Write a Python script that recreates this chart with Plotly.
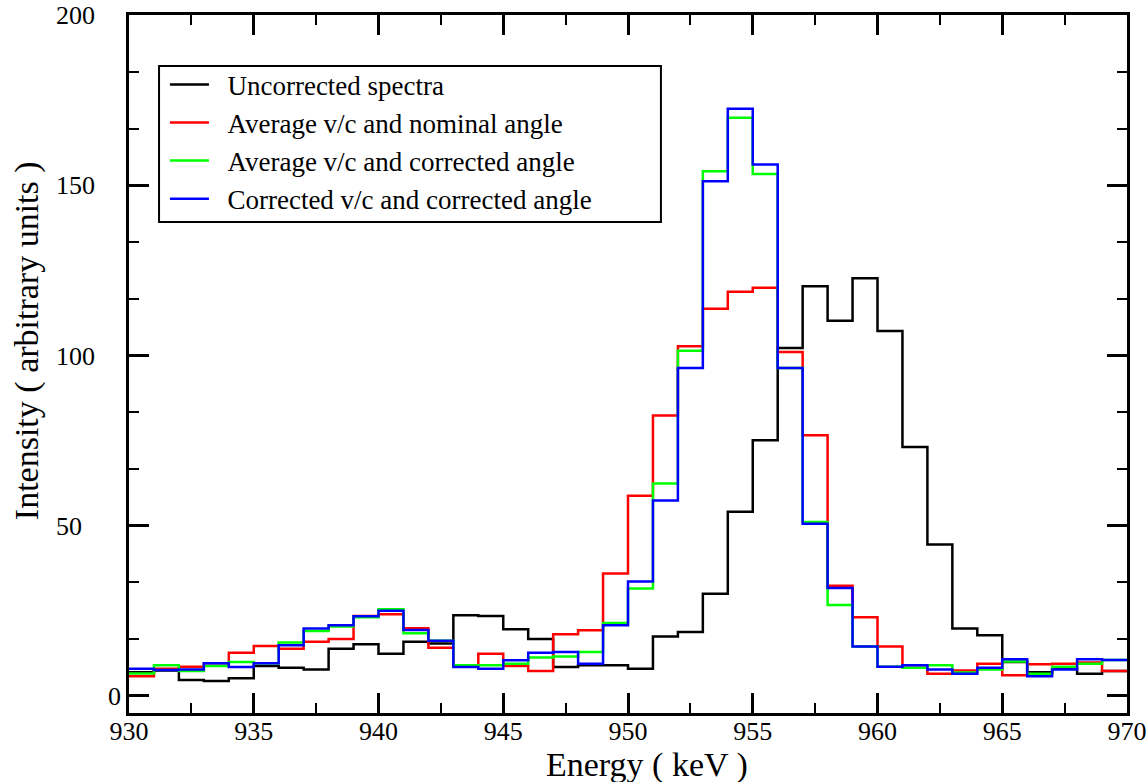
import plotly.graph_objects as go

# Bin lower edges (keV), 1 keV wide bins from 930 to 970
bin_edges = list(range(930, 971))

uncorrected = [7.0, 7.5, 4.7, 4.4, 5.2, 8.8, 8.3, 7.8, 13.9, 15.2,
               12.4, 15.9, 15.4, 23.7, 23.5, 19.6, 16.7, 8.5, 9.0, 9.0,
               8.0, 17.5, 18.8, 30.0, 54.1, 75.1, 102.2, 120.3, 110.2, 122.7,
               107.2, 73.1, 44.5, 19.8, 17.8, 10.0, 7.0, 8.0, 6.5, 7.3]

avg_nominal = [5.8, 8.0, 8.6, 9.6, 12.7, 14.7, 13.9, 15.9, 16.7, 23.5,
               24.0, 19.9, 14.2, 9.0, 12.4, 8.8, 7.3, 18.1, 19.3, 36.0,
               58.8, 82.4, 102.7, 113.7, 118.7, 119.9, 101.0, 76.6, 32.4, 23.1,
               14.5, 9.0, 6.5, 7.5, 9.5, 6.1, 9.3, 9.5, 9.8, 7.3]

avg_corrected = [6.6, 9.0, 7.3, 8.8, 10.0, 9.6, 15.7, 19.1, 20.4, 23.1,
                 25.5, 18.4, 16.2, 9.0, 9.0, 9.5, 11.3, 11.6, 12.9, 21.4,
                 31.6, 62.4, 101.4, 154.1, 169.8, 153.3, 96.3, 51.1, 26.7, 14.5,
                 8.6, 8.3, 9.0, 6.9, 7.8, 10.1, 6.5, 8.6, 9.5, 10.6]

corr_corrected = [8.0, 7.6, 7.8, 9.6, 8.5, 9.6, 14.9, 19.8, 20.8, 23.4,
                  25.0, 19.4, 16.2, 8.5, 8.0, 10.5, 12.7, 12.9, 9.5, 20.8,
                  33.6, 57.4, 96.3, 151.2, 172.5, 156.1, 96.3, 50.6, 31.7, 14.5,
                  8.6, 9.0, 7.8, 6.5, 8.3, 10.8, 5.8, 7.8, 10.8, 10.6]

series_names = ["Uncorrected spectra",
                "Average v/c and nominal angle",
                "Average v/c and corrected angle",
                "Corrected v/c and corrected angle"]
series_colors = ["#000000", "#ff0000", "#00ff00", "#0000ff"]
series_values = [uncorrected, avg_nominal, avg_corrected, corr_corrected]

x_ticks = [930, 935, 940, 945, 950, 955, 960, 965, 970]
y_ticks = [0, 50, 100, 150, 200]
FS = "\u2007"  # figure space (digit width) for label alignment
y_tick_text = ["0", "50" + FS * 3, "100" + FS * 2, "150" + FS * 2, "200" + FS * 2]

FONT = "Liberation Serif"
NB = "\u00a0\u00a0"

fig = go.Figure()
for name, color, vals in zip(series_names, series_colors, series_values):
    fig.add_trace(go.Scatter(
        x=bin_edges,
        y=list(vals) + [vals[-1]],
        mode="lines",
        line=dict(color=color, width=2.5, shape="hv"),
        name=NB + name,
    ))

axis_common = dict(
    showline=True, linecolor="black", linewidth=2.5, mirror="ticks",
    ticks="inside", ticklen=20, tickwidth=2.5, tickcolor="black",
    showgrid=False, zeroline=False, automargin=False,
    tickfont=dict(family=FONT, size=26, color="black"),
)

fig.update_xaxes(
    range=[930, 970], tickvals=x_ticks,
    ticklabelstandoff=-7,
    minor=dict(ticks="inside", ticklen=10, tickwidth=2, tickcolor="black",
               dtick=2.5, tick0=930, showgrid=False),
    **axis_common,
)
fig.update_yaxes(
    range=[-5, 200], tickvals=y_ticks, ticktext=y_tick_text,
    minor=dict(ticks="inside", ticklen=10, tickwidth=2, tickcolor="black",
               dtick=50 / 3, tick0=0, showgrid=False),
    **axis_common,
)

fig.add_annotation(text="Energy ( keV )", xref="paper", yref="paper",
                   x=0.519, y=-0.0745, xanchor="center", yanchor="middle",
                   showarrow=False, font=dict(family=FONT, size=34, color="black"))
fig.add_annotation(text="Intensity ( arbitrary units )", xref="paper", yref="paper",
                   x=-0.102, y=0.533, xanchor="center", yanchor="middle",
                   textangle=-90, showarrow=False,
                   font=dict(family=FONT, size=34, color="black"))

# legend frame
fig.add_shape(type="rect", xref="paper", yref="paper",
              x0=0.0301, x1=0.533, y0=0.7034, y1=0.927,
              line=dict(color="black", width=2), layer="above")

fig.update_layout(
    width=1148, height=782,
    margin=dict(l=129, r=21, t=15, b=69),
    paper_bgcolor="white", plot_bgcolor="white",
    font=dict(family=FONT, color="black"),
    showlegend=True,
    legend=dict(
        x=0.036, y=0.935, xanchor="left", yanchor="top",
        bgcolor="rgba(0,0,0,0)", borderwidth=0,
        font=dict(family=FONT, size=27, color="black"),
        itemwidth=39, tracegroupgap=0,
    ),
)

fig.write_html("out.html")
